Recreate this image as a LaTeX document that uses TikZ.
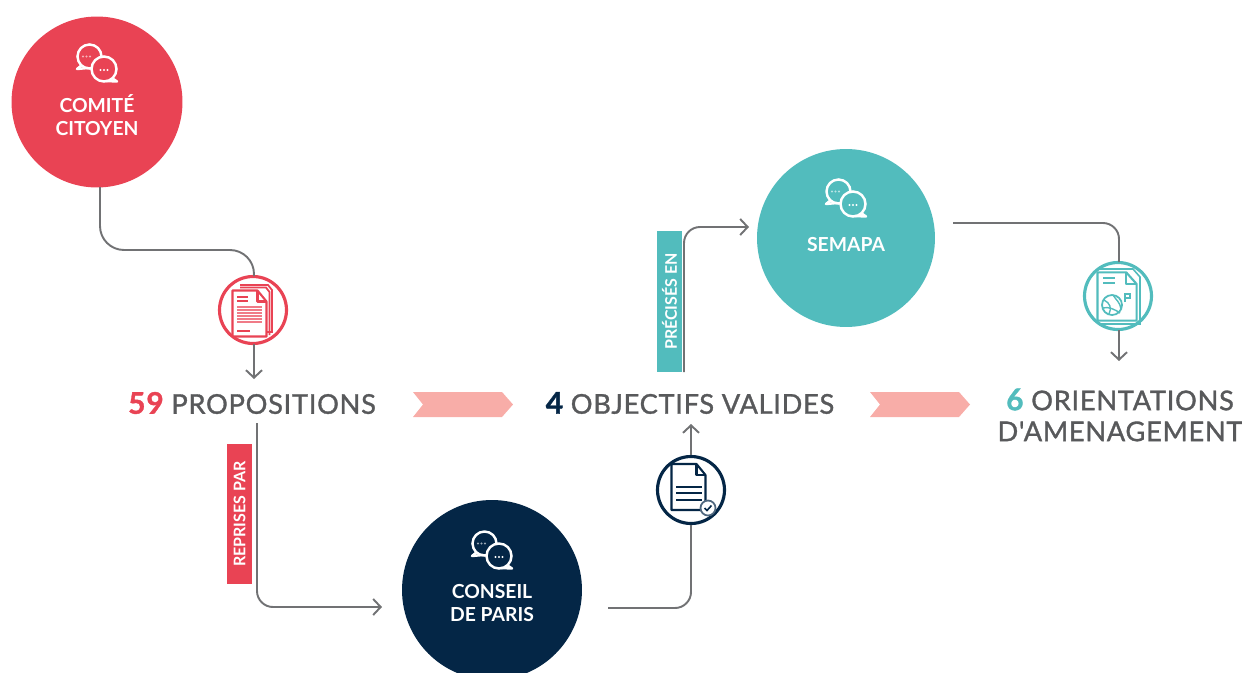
\documentclass[tikz,border=0pt]{standalone}
\usepackage{fontspec}
\setmainfont[Ligatures=TeXOff]{Lato}
\usetikzlibrary{arrows.meta, positioning}

\definecolor{cred}{HTML}{E94354}
\definecolor{cnavy}{HTML}{042646}
\definecolor{cteal}{HTML}{52BCBD}
\definecolor{cgrey}{HTML}{58595B}
\definecolor{cpink}{HTML}{F8ADA8}

\newcommand\stepnum[2]{\textcolor{#1}{\fontsize{17}{17.6}\selectfont\bfseries\addfontfeature{LetterSpace=3}#2}}

\tikzset{
	bubbles/.pic={
		\draw [white, line width=1.4pt, fill=#1] (-7.5,-6.5) circle [radius=12];
		\draw [white, line width=1.4pt, line join=round] (-15,2) -- (-20,6) -- (-9,5);
		\draw [white, line width=1.4pt, fill=#1] (7,6) circle [radius=12.5];
		\draw [white, line width=1.4pt, line join=round] (15,15) -- (20,18.5) -- (9,18);
		\foreach \dx in {-3.5,0,3.5} {
			\fill [white] (7+\dx,7) circle [radius=1.2];
			\fill [white, opacity=0.6] (-10.5+\dx,-6.5) circle [radius=1.2];
		}
	},
	sheet/.pic={
		\draw [#1, line width=1.2pt, line join=round, fill=white]
			(-17,-23) -- (8,-23) -- (17,-12) -- (17,23) -- (-17,23) -- cycle;
		\draw [#1, line width=1.2pt, line join=round] (8,-23) -- (8,-12) -- (17,-12);
	},
}

\begin{document}
\begin{tikzpicture}
	[%
	x=0.02cm, y=-0.02cm,%
	bigdisc/.style ={circle,	inner sep=0pt,	minimum size=#1},%
	icondisc/.style={circle,	draw=#1,	fill=white,	line width=1.8pt,	inner sep=0pt,	minimum size=1.34cm},%
	disclab/.style ={white,	font=\fontsize{11}{13}\selectfont\bfseries,	align=center,	inner sep=0pt},%
	steplab/.style ={cgrey,	font=\fontsize{15.5}{17.6}\selectfont\addfontfeature{LetterSpace=2.6,FakeBold=1.2},	align=center,	inner sep=0pt},%
	tag/.style     ={fill=#1,	text=white,	rotate=90,	inner sep=0pt,	minimum width=2.82cm,	minimum height=0.5cm,	font=\fontsize{9.1}{9.1}\selectfont\bfseries},%
	link/.style    ={draw=cgrey!85,	line width=1.1pt,	rounded corners=0.32cm},%
	tip/.style     ={-{Straight Barb[length=1.5mm,width=3.2mm,line width=1.1pt]}},%
	]

	\useasboundingbox (0,0) rectangle (1242,673);

	% discs
	\node (comite) at (97,102) [bigdisc=3.42cm, fill=cred] {};
	\node (semapa) at (846,238) [bigdisc=3.56cm, fill=cteal] {};
	\node (conseil) at (492,590) [bigdisc=3.6cm, fill=cnavy] {};

	\node (comitelab) at (97,115.5) [disclab] {COMITÉ\\CITOYEN};
	\node (semapalab) at (846,244.5) [disclab] {SEMAPA};
	\node (conseillab) at (492,603) [disclab] {CONSEIL\\DE PARIS};

	\pic at (97,63) {bubbles=cred};
	\pic at (846,198) {bubbles=cteal};
	\pic at (492,550) {bubbles=cnavy};

	% step labels
	\node (prop) at (252,403) [steplab] {\stepnum{cred}{59} PROPOSITIONS};
	\node (obj) at (690,403) [steplab] {\stepnum{cnavy}{4} OBJECTIFS VALIDES};
	\node (orient) at (1120,415) [steplab] {\stepnum{cteal}{6} ORIENTATIONS\\D'AMENAGEMENT};

	% chevrons
	\foreach \x in {413,870}
		\fill [cpink] (\x,392) -- (\x+89,392) -- (\x+100,404.5) -- (\x+89,417) -- (\x,417) -- (\x+10,404.5) -- cycle;

	% free ends of the links
	\coordinate (comiteout) at (100,187);
	\coordinate (propout) at (257,423);
	\coordinate (conseilin) at (382,607);
	\coordinate (conseilout) at (608,608);
	\coordinate (objout) at (684,372);
	\coordinate (semapain) at (749,227);
	\coordinate (semapaout) at (953,223);

	% icons
	\node (docprop) at (253,310) [icondisc=cred] {};
	\node (docobj) at (691,490) [icondisc=cnavy] {};
	\node (docorient) at (1118,296) [icondisc=cteal] {};

	% links
	\draw [link, rounded corners=0.48cm] (comiteout) -- (100,250) -- (254,250) -- (254,276);
	\draw [link, tip] (254,344) -- (254,379);
	\draw [link, tip] (propout) -- (257,607) -- (conseilin);
	\draw [link] (conseilout) -- (691,608) -- (docobj.south);
	\draw [link, tip] (docobj.north) -- (691,424);
	\draw [link, tip] (objout) -- (684,227) -- (semapain);
	\draw [link] (semapaout) -- (1119,223) -- (1119,262);
	\draw [link, tip] (1119,330) -- (1119,361);

	% tags
	\node (tagprop) at (239.5,514) [tag=cred] {REPRISES PAR};
	\node (tagobj) at (669.5,301.5) [tag=cteal] {PRÉCISÉS EN};

	% document icons
	\draw [cred, line width=1pt] (240,285) -- (268,285) -- (272,290) -- (272,332) -- (267,332);
	\draw [cred, line width=1pt] (240,287.5) -- (266,287.5) -- (269.5,292) -- (269.5,335);
	\pic at (249.5,313.5) {sheet=cred};
	\foreach \y in {297,301} \draw [cred, line width=0.9pt] (237,\y) -- (248,\y);
	\foreach \y in {307,310,313,316,319,322} \draw [cred!70, line width=1pt] (237,\y) -- (262,\y);
	\draw [cred, line width=0.9pt] (237,331) -- (250,331);

	\pic at (688.5,487) {sheet=cnavy};
	\foreach \y in {487,493,500} \draw [cnavy, line width=1.2pt] (676,\y) -- (702,\y);
	\node (okobj) at (708,508) [circle, draw=cnavy!70, fill=white, line width=1pt, inner sep=0pt, minimum size=0.3cm] {};
	\draw [cnavy, line width=0.9pt] (704.5,508) -- (707,510.5) -- (711.5,505.5);

	\draw [cteal, line width=0.9pt] (1100,269) -- (1133,269) -- (1140,277) -- (1140,324) -- (1100,324);
	\pic at (1117,296.5) [xscale=1.15, yscale=1.05] {sheet=cteal};
	\foreach \y in {278,283} \draw [cteal, line width=1pt] (1103,\y) -- (1115,\y);
	\draw [cteal, line width=1pt] (1112,305) circle [radius=10];
	\draw [cteal, line width=0.8pt] (1104,300) .. controls (1110,303) and (1112,308) .. (1109,314);
	\draw [cteal, line width=0.8pt] (1113,295) .. controls (1116,300) and (1120,302) .. (1121,309);
	\draw [cteal, line width=0.8pt] (1103,308) .. controls (1108,306) and (1116,310) .. (1120,313);
	\draw [cteal, line width=0.9pt] (1125,302) -- (1125,294) -- (1130,294) -- (1130,298) -- (1125,298);

\end{tikzpicture}
\end{document}
